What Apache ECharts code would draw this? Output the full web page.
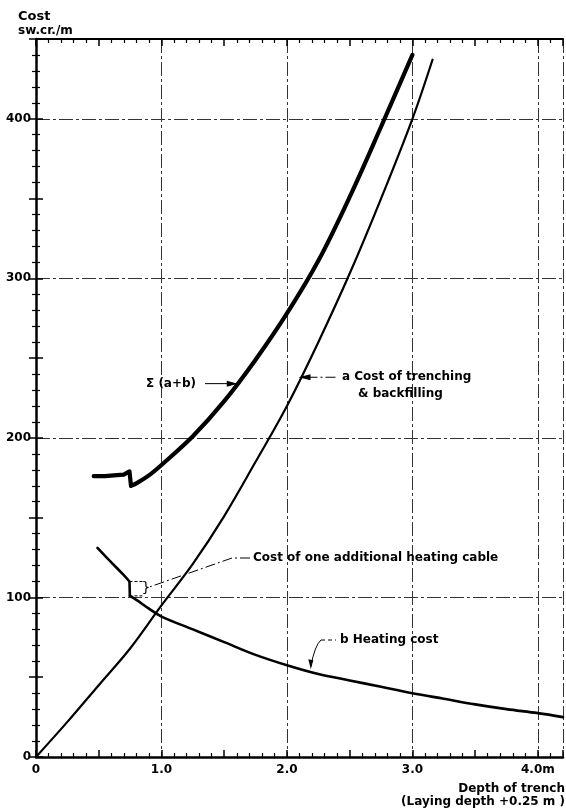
<!DOCTYPE html>
<html>
<head>
<meta charset="utf-8">
<script src="https://cdn.jsdelivr.net/npm/echarts@6/dist/echarts.min.js"></script>
<style>
html,body{margin:0;padding:0;background:#fff;}
#chart{width:566px;height:809px;}
</style>
</head>
<body>
<div id="chart"></div>
<script>
// ---- data ----
const xTickLabels = ['0', '1.0', '2.0', '3.0', '4.0m'];
const yTickLabels = ['0', '100', '200', '300', '400'];

// a : cost of trenching & backfilling
const aX = [0, 0.25, 0.5, 0.75, 1.0, 1.25, 1.5, 1.75, 2.0, 2.25, 2.5, 2.75, 3.0, 3.16];
const aY = [0, 22, 45, 68, 95, 121, 151, 185, 220, 260, 303, 350, 400, 437];

// b : heating cost (step at 0.745 = one additional heating cable)
const bX = [0.49, 0.55, 0.6, 0.65, 0.7, 0.745, 0.748, 0.8, 0.9, 1.0, 1.25, 1.5, 1.75, 2.0, 2.25, 2.5, 2.75, 3.0, 3.25, 3.5, 3.75, 4.0, 4.2];
const bY = [131, 126, 122, 118, 114, 110, 101, 98.5, 93, 88, 80, 72, 64, 57.5, 52, 48, 44, 40, 36.5, 33, 30, 27.5, 25];
const bStepIndex = 6;

// Σ (a+b)
const sX = [0.46, 0.55, 0.62, 0.7, 0.745, 0.757, 0.8, 0.9, 1.0, 1.25, 1.5, 1.75, 2.0, 2.25, 2.5, 2.75, 3.0];
const sY = [176, 176, 176.5, 177, 179, 170, 171.5, 176.5, 183, 201, 223, 249, 278, 311, 351, 395, 440];
const sStepIndex = 5;

const pairs = (xs, ys) => xs.map((x, i) => [x, ys[i]]);

const FONT = 'DejaVu Sans';
const chart = echarts.init(document.getElementById('chart'), null, {renderer: 'canvas'});

const gridDash = [14, 3, 3, 3];
const tickBase = {show: true, inside: true, length: 7, lineStyle: {color: '#000', width: 1.5}};
const minorBase = {show: true, splitNumber: 5, length: 4, lineStyle: {color: '#000', width: 1.2}};

const bPts = pairs(bX, bY);
const sPts = pairs(sX, sY);

const lineSeries = (name, data, width, smooth, z) => ({
  name: name, type: 'line', xAxisIndex: 0, yAxisIndex: 0,
  data: data, showSymbol: false, smooth: smooth,
  lineStyle: {color: '#000', width: width, join: 'round', cap: 'round'}, z: z || 5
});

const option = {
  animation: false,
  backgroundColor: '#fff',
  grid: {left: 36, top: 39, width: 531, height: 718, containLabel: false},
  xAxis: [
    {
      type: 'value', min: 0, max: 4.2, interval: 0.5, position: 'bottom',
      axisLine: {show: true, onZero: false, lineStyle: {color: '#000', width: 2.5}},
      axisTick: tickBase, minorTick: minorBase,
      splitLine: {show: false},
      axisLabel: {
        show: true, margin: 7, color: '#000', fontFamily: FONT, fontWeight: 'bold', fontSize: 12,
        formatter: v => (Math.abs(v - Math.round(v)) < 1e-6 && Math.round(v) < xTickLabels.length) ? xTickLabels[Math.round(v)] : ''
      }
    },
    {
      type: 'value', min: 0, max: 4.2, interval: 1, position: 'bottom',
      axisLine: {show: false}, axisTick: {show: false}, axisLabel: {show: false},
      splitLine: {show: true, lineStyle: {color: '#333', width: 1, type: gridDash}}
    },
    {
      type: 'value', min: 0, max: 4.2, interval: 0.5, position: 'top',
      axisLine: {show: true, onZero: false, lineStyle: {color: '#000', width: 2}},
      axisTick: tickBase, minorTick: minorBase,
      axisLabel: {show: false}, splitLine: {show: false}
    }
  ],
  yAxis: [
    {
      type: 'value', min: 0, max: 450, interval: 50, position: 'left',
      axisLine: {show: true, onZero: false, lineStyle: {color: '#000', width: 2.5}},
      axisTick: tickBase, minorTick: minorBase,
      splitLine: {show: false},
      axisLabel: {
        show: true, margin: 5, color: '#000', fontFamily: FONT, fontWeight: 'bold', fontSize: 12,
        formatter: v => (v % 100 === 0 && v / 100 < yTickLabels.length) ? yTickLabels[v / 100] : ''
      }
    },
    {
      type: 'value', min: 0, max: 450, interval: 100, position: 'left',
      axisLine: {show: false}, axisTick: {show: false}, axisLabel: {show: false},
      splitLine: {show: true, lineStyle: {color: '#333', width: 1, type: gridDash}}
    },
    {
      type: 'value', min: 0, max: 450, interval: 50, position: 'right',
      axisLine: {show: false},
      axisTick: tickBase, minorTick: minorBase,
      axisLabel: {show: false}, splitLine: {show: false}
    }
  ],
  series: [
    lineSeries('a', pairs(aX, aY), 2.2, 0.35, 5),
    lineSeries('b', bPts.slice(0, bStepIndex + 1), 2.6, false, 5),
    lineSeries('b', bPts.slice(bStepIndex), 2.6, 0.35, 5),
    lineSeries('Σ (a+b)', sPts.slice(0, sStepIndex + 1), 4.2, false, 6),
    lineSeries('Σ (a+b)', sPts.slice(sStepIndex), 4.2, 0.35, 6)
  ]
};
chart.setOption(option);

// ---- annotations ----
const P = (x, y) => chart.convertToPixel({xAxisIndex: 0, yAxisIndex: 0}, [x, y]);
const F = 'bold 12px "' + FONT + '"';
const txt = (text, x, y, align, font) => ({
  type: 'text', x: x, y: y, z: 20,
  style: {text: text, fill: '#000', font: font || F, textVerticalAlign: 'middle', textAlign: align || 'left'}
});
const line = (pts, dash, w) => ({
  type: 'polyline', z: 20, shape: {points: pts},
  style: {stroke: '#000', lineWidth: w || 1, lineDash: dash || null, fill: null}
});

const sTip = P(1.6, 234);
const aTip = P(2.1, 238);
const bTop = P(0.745, 110);
const bBot = P(0.745, 101);
const bTip = P(2.19, 55);
const dashDot = [10, 3, 2, 3];

const graphics = [
  txt('Cost', 18, 17, 'left', 'bold 13px "' + FONT + '"'),
  txt('sw.cr./m', 18, 31, 'left', 'bold 12px "' + FONT + '"'),
  txt('Depth of trench', 565, 789, 'right'),
  txt('(Laying depth +0.25 m )', 565, 802, 'right'),

  txt('Σ (a+b)', 146, sTip[1]),
  line([[205, sTip[1]], [sTip[0] - 6, sTip[1]]], null, 1),
  {type: 'polygon', z: 21, shape: {points: [[sTip[0] - 10, sTip[1] - 3], [sTip[0] + 1, sTip[1]], [sTip[0] - 10, sTip[1] + 3]]}, style: {fill: '#000'}},

  txt('a Cost of trenching', 342, aTip[1]),
  txt('& backfilling', 358, aTip[1] + 17),
  line([[aTip[0] + 8, aTip[1]], [338, aTip[1]]], dashDot, 1),
  {type: 'polygon', z: 21, shape: {points: [[aTip[0] + 11, aTip[1] - 3], [aTip[0] - 1, aTip[1]], [aTip[0] + 11, aTip[1] + 3]]}, style: {fill: '#000'}},

  txt('Cost of one additional heating cable', 253, 558),
  line([[250, 558], [232, 558], [bTop[0] + 18, (bTop[1] + bBot[1]) / 2 - 1]], dashDot, 1),
  line([[bTop[0], bTop[1]], [bTop[0] + 13, bTop[1]]], [3, 2], 1),
  line([[bBot[0], bBot[1]], [bBot[0] + 13, bBot[1]]], [3, 2], 1),
  txt('}', bTop[0] + 12, (bTop[1] + bBot[1]) / 2, 'left', '14px "' + FONT + '"'),

  txt('b Heating cost', 340, 640),
  line([[321, 640], [336, 640]], [4, 3], 1),
  {type: 'bezierCurve', z: 20, shape: {x1: 321, y1: 640, cpx1: 315, cpy1: 645, x2: bTip[0], y2: bTip[1] - 3}, style: {stroke: '#000', lineWidth: 1, fill: null}},
  {type: 'polygon', z: 21, shape: {points: [[bTip[0] - 2.5, bTip[1] - 10], [bTip[0] + 2.5, bTip[1] - 9], [bTip[0], bTip[1]]]}, style: {fill: '#000'}}
];
chart.setOption({graphic: graphics});
</script>
</body>
</html>
